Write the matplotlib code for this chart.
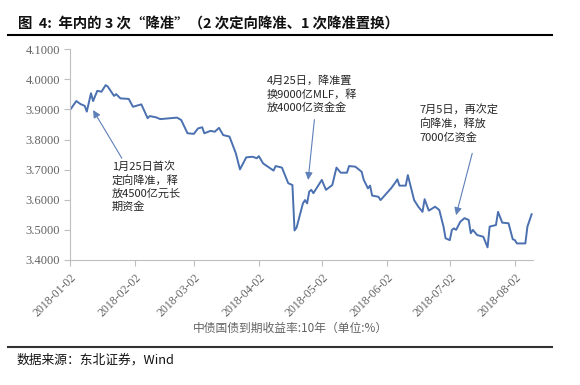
import matplotlib
matplotlib.use("Agg")
import matplotlib.pyplot as plt
import pandas as pd

# 中债国债到期收益率:10年
dates = [
    "2018-01-02", "2018-01-05", "2018-01-07", "2018-01-09", "2018-01-10", "2018-01-12",
    "2018-01-13", "2018-01-15", "2018-01-17", "2018-01-19", "2018-01-20", "2018-01-23",
    "2018-01-24", "2018-01-26", "2018-01-30", "2018-02-01", "2018-02-05", "2018-02-08",
    "2018-02-09", "2018-02-12", "2018-02-14", "2018-02-22", "2018-02-24", "2018-02-27",
    "2018-03-02", "2018-03-04", "2018-03-06", "2018-03-07", "2018-03-10", "2018-03-12",
    "2018-03-14", "2018-03-16", "2018-03-19", "2018-03-22", "2018-03-24", "2018-03-27",
    "2018-03-30", "2018-04-01", "2018-04-02", "2018-04-04", "2018-04-09", "2018-04-10",
    "2018-04-13", "2018-04-16", "2018-04-18", "2018-04-19", "2018-04-20", "2018-04-23",
    "2018-04-24", "2018-04-25", "2018-04-26", "2018-04-27", "2018-04-28", "2018-05-02",
    "2018-05-04", "2018-05-07", "2018-05-09", "2018-05-11", "2018-05-14", "2018-05-15",
    "2018-05-18", "2018-05-21", "2018-05-22", "2018-05-24", "2018-05-25", "2018-05-26",
    "2018-05-29", "2018-05-30", "2018-06-04", "2018-06-06", "2018-06-07", "2018-06-08",
    "2018-06-11", "2018-06-12", "2018-06-15", "2018-06-17", "2018-06-19", "2018-06-20",
    "2018-06-22", "2018-06-25", "2018-06-27", "2018-06-29", "2018-06-30", "2018-07-02",
    "2018-07-03", "2018-07-04", "2018-07-05", "2018-07-07", "2018-07-09", "2018-07-11",
    "2018-07-12", "2018-07-13", "2018-07-15", "2018-07-18", "2018-07-20", "2018-07-21",
    "2018-07-24", "2018-07-25", "2018-07-27", "2018-07-30", "2018-08-01", "2018-08-02",
    "2018-08-03", "2018-08-07", "2018-08-08", "2018-08-10",
]
yields = [
    3.898, 3.928, 3.918, 3.912, 3.893, 3.954,
    3.928, 3.962, 3.959, 3.981, 3.976, 3.945,
    3.951, 3.937, 3.935, 3.909, 3.917, 3.871,
    3.878, 3.874, 3.868, 3.873, 3.865, 3.821,
    3.819, 3.837, 3.841, 3.821, 3.829, 3.826,
    3.839, 3.815, 3.810, 3.755, 3.701, 3.741,
    3.743, 3.738, 3.745, 3.721, 3.697, 3.712,
    3.707, 3.655, 3.649, 3.498, 3.508, 3.588,
    3.599, 3.588, 3.627, 3.633, 3.622, 3.666,
    3.633, 3.649, 3.707, 3.690, 3.690, 3.712,
    3.710, 3.693, 3.666, 3.638, 3.647, 3.614,
    3.610, 3.599, 3.638, 3.657, 3.668, 3.647,
    3.647, 3.682, 3.599, 3.577, 3.560, 3.602,
    3.564, 3.577, 3.566, 3.511, 3.472, 3.466,
    3.500, 3.505, 3.500, 3.527, 3.539, 3.533,
    3.489, 3.500, 3.483, 3.477, 3.442, 3.511,
    3.516, 3.560, 3.524, 3.522, 3.469, 3.466,
    3.455, 3.455, 3.511, 3.552,
]

tick_dates = ["2018-01-02", "2018-02-02", "2018-03-02", "2018-04-02",
              "2018-05-02", "2018-06-02", "2018-07-02", "2018-08-02"]
y_ticks = [3.4, 3.5, 3.6, 3.7, 3.8, 3.9, 4.0, 4.1]

# annotation targets: (date, yield) where each arrow points
notes = [
    ("2018-01-13", 3.898, "1月25日首次\n定向降准，释\n放4500亿元长\n期资金"),
    ("2018-04-25 12:00", 3.666, "4月25日，降准置\n换9000亿MLF，释\n放4000亿资金金"),
    ("2018-07-05", 3.549, "7月5日，再次定\n向降准，释放\n7000亿资金"),
]
note_text_pos = [(0.090, 0.471), (0.4255, 0.878), (0.756, 0.740)]
note_tail_pos = [(0.112, 0.483), (0.528, 0.666), (0.869, 0.506)]

cjk = ["Noto Sans CJK SC", "DejaVu Sans"]
serif = ["Liberation Serif", "Noto Sans CJK SC"]
plt.rcParams["font.family"] = cjk

grey = "#636363"
line_blue = "#4a70b0"

fig = plt.figure(figsize=(5.8, 3.85), dpi=100)
ax = fig.add_axes([0.1207, 0.3247, 0.798, 0.5473])

x = pd.to_datetime(dates)
ax.plot(x, yields, color=line_blue, lw=1.4, solid_joinstyle="round")

ax.set_ylim(3.4, 4.1)
ax.set_yticks(y_ticks)
ax.set_yticklabels([f"{v:.4f}" for v in y_ticks], family=serif, fontsize=9, color=grey)
ax.set_xlim(pd.Timestamp("2018-01-02"), pd.Timestamp("2018-08-10 14:00"))
ax.set_xticks(pd.to_datetime(tick_dates))
ax.set_xticklabels(tick_dates, family=serif, fontsize=8.5, color=grey,
                   rotation=45, ha="right", rotation_mode="anchor")

for s in ["top", "right"]:
    ax.spines[s].set_visible(False)
for s in ["left", "bottom"]:
    ax.spines[s].set_color("#bfbfbf")
    ax.spines[s].set_linewidth(0.8)
ax.tick_params(axis="both", color="#bfbfbf", length=4, width=0.8)
ax.tick_params(axis="x", pad=4)
ax.tick_params(axis="y", pad=3)

arrow_col = "#5f7fb8"
for (d, v, txt), tpos, tail in zip(notes, note_text_pos, note_tail_pos):
    ax.annotate("", xy=(pd.Timestamp(d), v), xycoords="data",
                xytext=tail, textcoords="axes fraction",
                arrowprops=dict(arrowstyle="-|>", color=arrow_col, lw=0.8,
                                mutation_scale=11, shrinkA=0, shrinkB=0))
    ax.text(tpos[0], tpos[1], txt, transform=ax.transAxes, fontsize=8,
            va="top", ha="left", linespacing=1.35, color="#262626")

fig.text(0.5, 1 - 328 / 385, "中债国债到期收益率:10年（单位:%）", ha="center", va="center",
         fontsize=8.5, color=grey)

# header and footer
fig.text(18 / 580, 1 - 24 / 385, "图  4:  年内的 3 次“降准”（2 次定向降准、1 次降准置换）",
         ha="left", va="center", fontsize=10.4, fontweight="bold", color="#111111")
fig.add_artist(plt.Line2D([8 / 580, 552 / 580], [1 - 34.5 / 385] * 2, color="black", lw=1.5))
fig.add_artist(plt.Line2D([8 / 580, 552 / 580], [1 - 346.5 / 385] * 2, color="#333333", lw=1.5))
fig.text(17 / 580, 1 - 360 / 385, "数据来源：东北证券，Wind", ha="left", va="center",
         fontsize=9.2, color="#111111")

fig.savefig("out.png", dpi=100)
